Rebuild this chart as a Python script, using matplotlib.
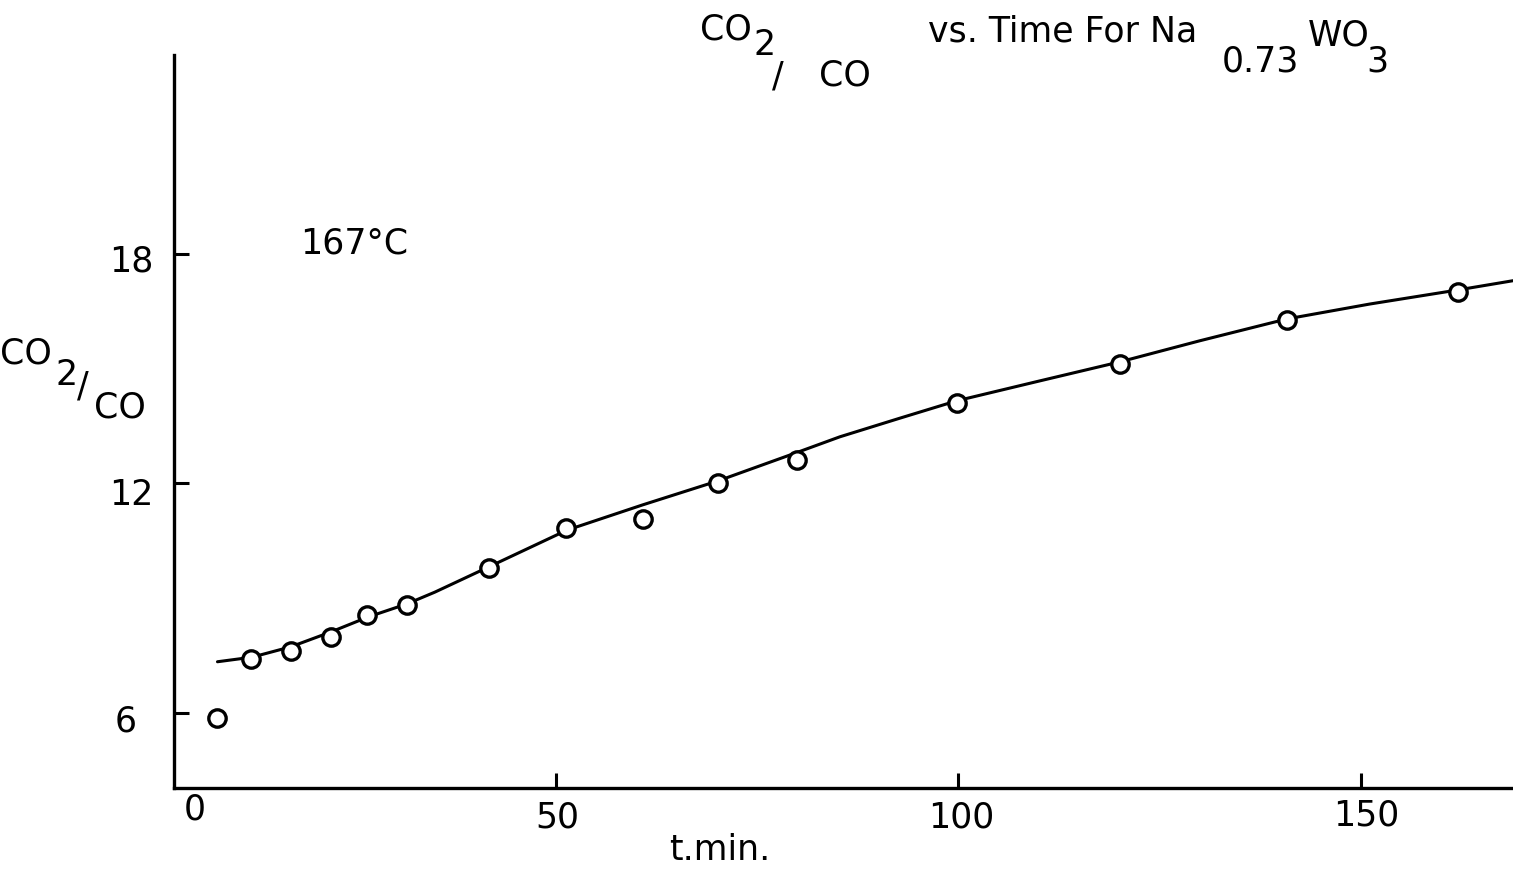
import numpy as np
import matplotlib
matplotlib.use('Agg')
import matplotlib.pyplot as plt

# measured points, t in minutes, ratio CO2/CO
t_pts = [8.0, 12.2, 17.1, 22.1, 26.6, 31.6, 41.7, 51.3, 60.8, 70.2, 80.0, 99.8, 120.1, 140.8, 162.1]
ratio_pts = [5.86, 7.41, 7.61, 7.98, 8.56, 8.82, 9.80, 10.83, 11.06, 12.02, 12.61, 14.11, 15.12, 16.27, 17.00]

# hand drawn smooth curve
t_fit = [8.0, 12.3, 17.1, 22.1, 26.7, 31.5, 35.0, 41.7, 51.4, 60.8, 70.2, 80.1, 85.3, 92.8,
         99.8, 110.1, 120.1, 130.0, 140.8, 151.1, 162.1, 168.9]
ratio_fit = [7.34, 7.46, 7.73, 8.12, 8.51, 8.85, 9.16, 9.82, 10.78, 11.44, 12.07, 12.82, 13.22, 13.71,
             14.16, 14.68, 15.18, 15.73, 16.30, 16.69, 17.06, 17.30]

x_ticks = [50, 100, 150]
y_ticks = [6, 12, 18]

W, H = 1513, 869
fig = plt.figure(figsize=(W/100, H/100), dpi=100)

def fp(x, y):
	return x/W, 1 - y/H

# axes box in pixels: left 174, right 1513, top 55, bottom 788
ax = fig.add_axes([174/W, 1 - 788/H, (W - 174)/W, (788 - 55)/H])
ax.set_xlim(2.6, 168.9)
ax.set_ylim(4.04, 23.2)

ax.plot(t_fit, ratio_fit, c='black', lw=2.2, solid_capstyle='round')
ax.plot(t_pts, ratio_pts, 'o', ms=12.5, mfc='white', mec='black', mew=2.4, clip_on=False)

for s in ['top', 'right']:
	ax.spines[s].set_visible(False)
for s in ['left', 'bottom']:
	ax.spines[s].set_linewidth(2.4)

ax.set_xticks(x_ticks)
ax.set_yticks(y_ticks)
ax.tick_params(direction='in', length=11, width=2.2, labelbottom=False, labelleft=False)

fs = 25
col = 'black'

# tick labels, placed where the draftsman put them
for lab, x, y in [('0', 195, 810), ('50', 557, 818), ('100', 961, 817), ('150', 1366, 815)]:
	fig.text(*fp(x, y), lab, fontsize=fs, ha='center', va='center', color=col)
for lab, x, y in [('18', 131, 262), ('12', 131, 495), ('6', 126, 722)]:
	fig.text(*fp(x, y), lab, fontsize=fs, ha='center', va='center', color=col)

fig.text(*fp(720, 850), 't.min.', fontsize=fs, ha='center', va='center', color=col)
fig.text(*fp(300, 243), '167°C', fontsize=fs, ha='left', va='center', color=col)

# y label CO2/CO
fig.text(*fp(52, 353), 'CO', fontsize=fs, ha='right', va='center', color=col)
fig.text(*fp(55, 375), '2', fontsize=fs, ha='left', va='center', color=col)
fig.text(*fp(77, 387), '/', fontsize=fs, ha='left', va='center', color=col)
fig.text(*fp(120, 408), 'CO', fontsize=fs, ha='center', va='center', color=col)

# title
fig.text(*fp(700, 30), 'CO', fontsize=fs, ha='left', va='center', color=col)
fig.text(*fp(753, 45), '2', fontsize=fs, ha='left', va='center', color=col)
fig.text(*fp(772, 77), '/', fontsize=fs, ha='left', va='center', color=col)
fig.text(*fp(845, 75), 'CO', fontsize=fs, ha='center', va='center', color=col)
fig.text(*fp(928, 42), 'vs. Time For Na', fontsize=fs, ha='left', va='baseline', color=col)
fig.text(*fp(1260, 62), '0.73', fontsize=fs, ha='center', va='center', color=col)
fig.text(*fp(1308, 45), 'WO', fontsize=fs, ha='left', va='baseline', color=col)
fig.text(*fp(1377, 62), '3', fontsize=fs, ha='center', va='center', color=col)

fig.savefig('out.png', dpi=100)
